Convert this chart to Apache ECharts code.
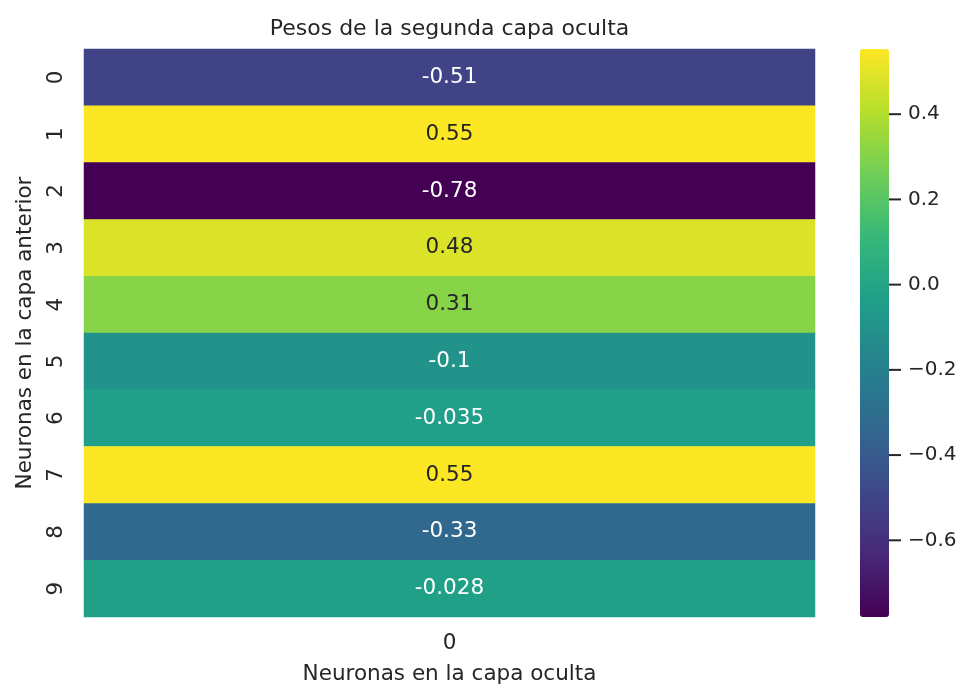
<!DOCTYPE html>
<html>
<head>
<meta charset="utf-8">
<script src="https://cdn.jsdelivr.net/npm/echarts@6/dist/echarts.min.js"></script>
<style>
  html, body { margin: 0; padding: 0; background: #ffffff; }
  #chart { width: 959px; height: 688px; }
</style>
</head>
<body>
<div id="chart"></div>
<script>
// Weights of the second hidden layer: one output neuron, ten inputs
const rowLabels = ['0', '1', '2', '3', '4', '5', '6', '7', '8', '9'];
const colLabels = ['0'];
const weights = [-0.51, 0.55, -0.78, 0.48, 0.31, -0.1, -0.035, 0.55, -0.33, -0.028];
const colorbarTicks = [-0.6, -0.4, -0.2, 0.0, 0.2, 0.4];
const scaleMin = -0.78;
const scaleMax = 0.553;

const viridis = ['#440154', '#482878', '#3e4989', '#31688e', '#26828e',
                 '#1f9e89', '#35b779', '#6ece58', '#b5de2b', '#fde725'];

const FONT = '"DejaVu Sans", "Liberation Sans", Arial, sans-serif';
const INK = '#262626';
const FS = 21.5;

// light cells get dark annotations, dark cells get white ones
function textColorFor(v) {
  const t = (v - scaleMin) / (scaleMax - scaleMin);
  return t > 0.62 ? INK : '#ffffff';
}

const cells = weights.map((v, i) => ({
  value: [0, i, v],
  label: { color: textColorFor(v) }
}));

// colorbar tick marks, drawn to the right of the bar
function renderTick(params, api) {
  const p = api.coord([1, api.value(0)]);
  return {
    type: 'line',
    shape: { x1: p[0], y1: p[1], x2: p[0] + 12, y2: p[1] },
    style: { stroke: INK, lineWidth: 2 }
  };
}

const chart = echarts.init(document.getElementById('chart'), null, { renderer: 'canvas' });

chart.setOption({
  animation: false,
  backgroundColor: '#ffffff',
  title: {
    text: 'Pesos de la segunda capa oculta',
    left: 449.5,
    top: 18,
    padding: 0,
    textAlign: 'center',
    textStyle: { fontFamily: FONT, fontSize: 22, fontWeight: 'normal', color: INK }
  },
  grid: [
    { left: 84, right: 144, top: 49, bottom: 71, containLabel: false, outerBoundsMode: 'none' },
    { left: 860, width: 29, top: 49, bottom: 71, containLabel: false, outerBoundsMode: 'none' }
  ],
  xAxis: [
    {
      type: 'category', gridIndex: 0, data: colLabels,
      axisLine: { show: false }, axisTick: { show: false }, splitLine: { show: false },
      axisLabel: { fontFamily: FONT, fontSize: FS, color: INK, margin: 15 },
      name: 'Neuronas en la capa oculta', nameLocation: 'middle', nameGap: 46,
      nameTextStyle: { fontFamily: FONT, fontSize: FS, color: INK }
    },
    {
      type: 'value', gridIndex: 1, min: 0, max: 1, show: false
    }
  ],
  yAxis: [
    {
      type: 'category', gridIndex: 0, data: rowLabels, inverse: true,
      axisLine: { show: false }, axisTick: { show: false }, splitLine: { show: false },
      axisLabel: { fontFamily: FONT, fontSize: FS, color: INK, rotate: 90, margin: 17 },
      name: 'Neuronas en la capa anterior', nameLocation: 'middle', nameGap: 48, nameRotate: 90,
      nameTextStyle: { fontFamily: FONT, fontSize: FS, color: INK }
    },
    {
      type: 'value', gridIndex: 1, position: 'right',
      min: scaleMin, max: scaleMax,
      axisLine: { show: false },
      splitLine: { show: false },
      axisTick: { show: false },
      axisLabel: {
        show: true, margin: 19, fontFamily: FONT, fontSize: 20, color: INK,
        customValues: colorbarTicks,
        formatter: v => (Math.round(v * 10) / 10).toFixed(1).replace('-', '\u2212')
      }
    }
  ],
  visualMap: {
    type: 'continuous',
    seriesIndex: 0,
    min: scaleMin,
    max: scaleMax,
    calculable: false,
    orient: 'vertical',
    left: 860,
    top: 49,
    padding: 0,
    itemWidth: 29,
    itemHeight: 568,
    text: null,
    showLabel: false,
    inRange: { color: viridis }
  },
  series: [
    {
      type: 'heatmap',
      xAxisIndex: 0,
      yAxisIndex: 0,
      data: cells,
      label: {
        show: true,
        fontFamily: FONT,
        fontSize: FS,
        formatter: p => String(p.value[2])
      },
      itemStyle: { borderWidth: 0 },
      emphasis: { disabled: true }
    },
    {
      type: 'custom',
      xAxisIndex: 1,
      yAxisIndex: 1,
      clip: false,
      silent: true,
      data: colorbarTicks,
      renderItem: renderTick
    }
  ]
});
</script>
</body>
</html>
